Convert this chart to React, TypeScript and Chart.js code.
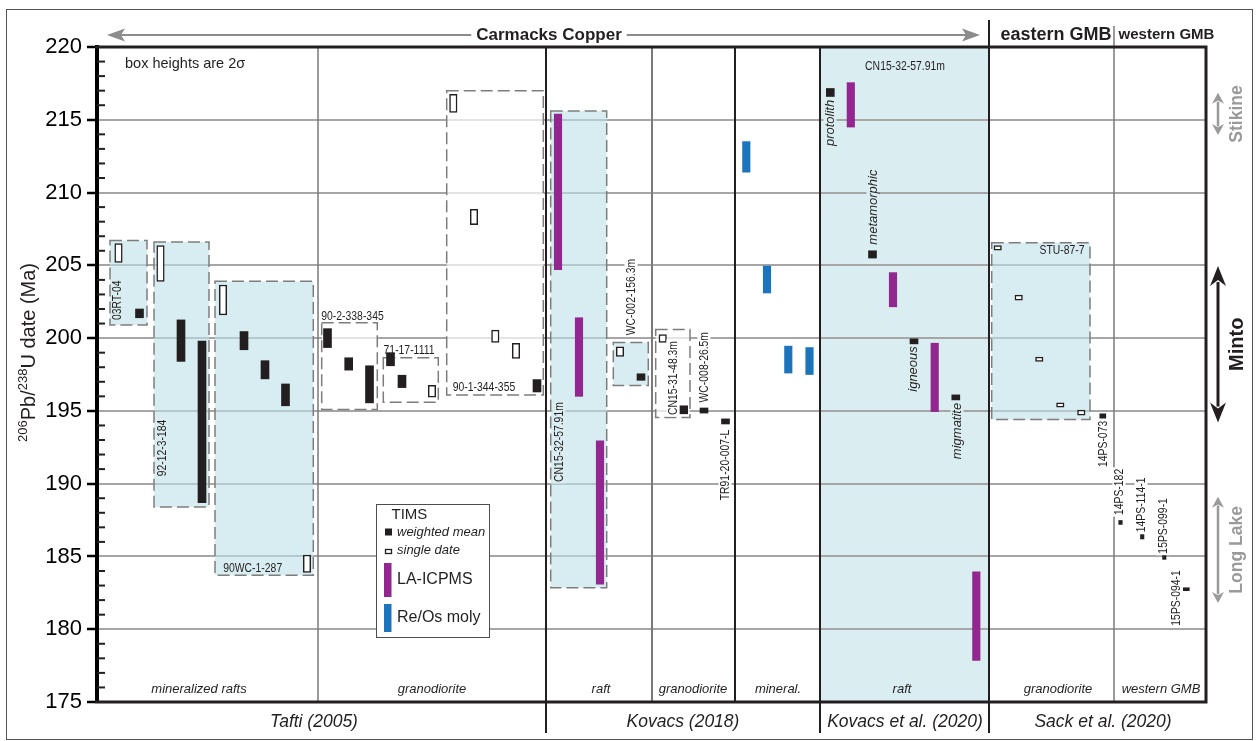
import { useEffect, useRef } from "react";
import { Chart, registerables } from "chart.js";

Chart.register(...registerables);

// ---------------- data ----------------
// x = position along the horizontal sample track (0 = age axis, 1109 = right edge)
// each row: [x, younger age (Ma), older age (Ma)]
type Row = [number, number, number];

const weightedMean: Row[] = [
  [42.5, 201.4, 202.0], // 03RT-04
  [84, 198.4, 201.25], // 92-12-3-184
  [105, 188.7, 199.8],
  [147, 199.2, 200.45], // 90WC-1-287
  [168, 197.2, 198.45],
  [188.5, 195.35, 196.85],
  [230.5, 199.35, 200.65], // 90-2-338-345
  [251.7, 197.8, 198.65],
  [272.5, 195.55, 198.1],
  [293.5, 198.1, 199.0], // 71-17-1111
  [305, 196.6, 197.45],
  [440, 196.3, 197.15], // 90-1-344-355
  [544, 197.1, 197.55], // WC-002-156.3m
  [586.7, 194.8, 195.35], // CN15-31-48.3m
  [607, 194.85, 195.2], // WC-008-26.5m
  [628.5, 194.1, 194.45], // TR91-20-007-L
  [733.3, 216.6, 217.15], // protolith
  [775.5, 205.5, 206.0], // metamorphic
  [817, 199.55, 199.95], // igneous
  [858.8, 195.75, 196.1], // migmatite
];
const weightedMeanNarrow: Row[] = [
  [1005.8, 194.5, 194.8], // 14PS-073
  [1089.3, 182.65, 182.85], // 15PS-094-1
];
const weightedMeanThin: Row[] = [
  [1023.5, 187.2, 187.47], // 14PS-182
  [1045.2, 186.2, 186.5], // 14PS-114-1
  [1067.3, 184.8, 185.1], // 15PS-099-1
];
const singleDate: Row[] = [
  [21.5, 205.2, 206.5],
  [63.5, 203.9, 206.35],
  [126, 201.6, 203.65],
  [210, 183.9, 185.1],
  [356.3, 215.5, 216.75],
  [377, 207.8, 208.85],
  [398.3, 199.7, 200.55],
  [419, 198.6, 199.65],
  [335, 195.95, 196.75],
  [523, 198.75, 199.4],
  [565.7, 199.7, 200.25],
  [900.7, 206.05, 206.35],
  [921.7, 202.6, 202.95],
  [942.3, 198.4, 198.7],
  [963.3, 195.25, 195.55],
  [984.3, 194.7, 195.05],
];
const laIcpms: Row[] = [
  [461, 204.7, 215.4],
  [482, 196.0, 201.4],
  [503, 183.1, 192.95],
  [753.8, 214.5, 217.55],
  [796, 202.15, 204.5],
  [837.7, 194.95, 199.65],
  [879.3, 177.85, 183.95],
];
const reOsMoly: Row[] = [
  [649.3, 211.4, 213.5],
  [670, 203.1, 204.95],
  [691.3, 197.6, 199.45],
  [712.5, 197.5, 199.35],
];

// sample boxes: [x start, x end, younger, older, kind]
const sampleBoxes: [number, number, number, number, string][] = [
  [13, 50, 200.9, 206.7, "raft"],
  [57, 112, 188.4, 206.6, "raft"],
  [118, 216.3, 183.7, 203.9, "raft"],
  [224.7, 280.3, 195.1, 201.05, "open"],
  [286.3, 341.3, 195.6, 198.65, "open"],
  [349.7, 446.3, 196.1, 217.0, "open"],
  [453.7, 509.7, 182.85, 215.6, "raft"],
  [516.3, 551.3, 196.75, 199.7, "raft"],
  [558.7, 593, 194.55, 200.6, "open"],
  [894.7, 993, 194.4, 206.55, "raft"],
];

const verticalLabels: [string, number, number][] = [
  ["03RT-04", 20.5, 202.6],
  ["92-12-3-184", 65.5, 192.45],
  ["CN15-32-57.91m", 462, 192.86],
  ["WC-002-156.3m", 534, 202.82],
  ["CN15-31-48.3m", 576, 197.26],
  ["WC-008-26.5m", 607, 198.0],
  ["TR91-20-007-L", 628, 191.28],
  ["14PS-073", 1006, 192.73],
  ["14PS-182", 1022, 189.43],
  ["14PS-114-1", 1044, 188.54],
  ["15PS-099-1", 1066, 187.1],
  ["15PS-094-1", 1079, 182.15],
];
const horizontalLabels: [string, number, number][] = [
  ["90WC-1-287", 155.7, 184.2],
  ["90-2-338-345", 255.5, 201.52],
  ["71-17-1111", 312, 199.12],
  ["90-1-344-355", 387, 196.64],
  ["CN15-32-57.91m", 808, 218.7],
  ["STU-87-7", 965, 206.05],
];
const phaseLabels: [string, number, number][] = [
  ["protolith", 733, 214.78],
  ["metamorphic", 776, 209.0],
  ["igneous", 816, 197.88],
  ["migmatite", 860, 193.62],
];

const columnEdges = [0, 221, 449, 555, 638, 723, 892, 1017, 1109];
const columnCaptions: [string, number][] = [
  ["mineralized rafts", 102],
  ["granodiorite", 335],
  ["raft", 504],
  ["granodiorite", 596],
  ["mineral.", 681],
  ["raft", 805],
  ["granodiorite", 961],
  ["western GMB", 1064],
];
const raftColumn: [number, number] = [723, 892];
const studies: [string, number][] = [
  ["Tafti (2005)", 217],
  ["Kovacs (2018)", 586],
  ["Kovacs et al. (2020)", 808],
  ["Sack et al. (2020)", 1006],
];
const carmacksArrow: [number, number] = [10, 883];
const regions: [string, number][] = [
  ["Carmacks Copper", 452],
  ["eastern GMB", 959],
  ["western GMB", 1069.5],
];
const terranes: [string, number, number][] = [
  ["Stikine", 213.95, 216.85],
  ["Minto", 194.2, 204.95],
  ["Long Lake", 181.8, 189.1],
];
const boxNote: [string, number, number] = ["box heights are 2σ", 28, 218.83];
const AGE_MIN = 175;
const AGE_MAX = 220;
const TRACK_MAX = 1109;

// ---------------- styles ----------------
const FONT = '"Liberation Sans", Arial, sans-serif';
const NARROW_SCALE = 0.8;
const INK = "#231f20";
const RAFT_FILL = "#daedf1";
const BOX_FILL = "rgba(190,225,232,0.6)";
const OPEN_FILL = "rgba(255,255,255,0.7)";
const GRID = "#a6a6a6";
const PURPLE = "#92278f";
const BLUE = "#1c75bc";
const REGION_SIZE = [17, 18, 15];
const DIVIDER_STYLE: Record<number, { color: string; width: number; up: number; down: number }> = {
  221: { color: "#7a7a7a", width: 1.5, up: 0, down: 0 },
  449: { color: INK, width: 2, up: 0, down: 31 },
  555: { color: "#7a7a7a", width: 2, up: 0, down: 0 },
  638: { color: INK, width: 2, up: 0, down: 0 },
  723: { color: INK, width: 2, up: 0, down: 31 },
  892: { color: INK, width: 2, up: 27, down: 31 },
  1017: { color: "#7a7a7a", width: 1.5, up: 21, down: 0 },
};

const toBars = (rows: Row[]) => rows.map(([x, lo, hi]) => ({ x, y: [lo, hi] }));

function drawText(
  ctx: CanvasRenderingContext2D,
  s: string,
  x: number,
  y: number,
  size: number,
  o: { style?: string; weight?: string; align?: CanvasTextAlign; rot?: boolean; color?: string; bg?: string; squeeze?: number } = {}
) {
  ctx.save();
  ctx.font = `${o.style || "normal"} ${o.weight || "normal"} ${size}px ${FONT}`;
  ctx.translate(x, y);
  if (o.rot) ctx.rotate(-Math.PI / 2);
  if (o.squeeze) ctx.scale(o.squeeze, 1);
  ctx.textAlign = o.align || "center";
  ctx.textBaseline = "middle";
  if (o.bg) {
    const w = ctx.measureText(s).width;
    ctx.fillStyle = o.bg;
    ctx.fillRect(-w / 2 - 2, -size / 2, w + 4, size);
  }
  ctx.fillStyle = o.color || INK;
  ctx.fillText(s, 0, 0);
  ctx.restore();
}

function vArrow(ctx: CanvasRenderingContext2D, x: number, y1: number, y2: number, color: string, lw: number, hl: number, hw: number) {
  ctx.save();
  ctx.strokeStyle = color;
  ctx.fillStyle = color;
  ctx.lineWidth = lw;
  ctx.beginPath();
  ctx.moveTo(x, y1 + hl * 0.8);
  ctx.lineTo(x, y2 - hl * 0.8);
  ctx.stroke();
  ctx.beginPath();
  ctx.moveTo(x, y1);
  ctx.lineTo(x - hw, y1 + hl);
  ctx.lineTo(x, y1 + hl * 0.7);
  ctx.lineTo(x + hw, y1 + hl);
  ctx.closePath();
  ctx.fill();
  ctx.beginPath();
  ctx.moveTo(x, y2);
  ctx.lineTo(x - hw, y2 - hl);
  ctx.lineTo(x, y2 - hl * 0.7);
  ctx.lineTo(x + hw, y2 - hl);
  ctx.closePath();
  ctx.fill();
  ctx.restore();
}

function labelBg(v: number, age: number): string {
  if (v >= raftColumn[0] && v <= raftColumn[1]) return RAFT_FILL;
  for (const [x0, x1, lo, hi, kind] of sampleBoxes) {
    if (v >= x0 && v <= x1 && age >= lo && age <= hi) return kind === "raft" ? RAFT_FILL : "#ffffff";
  }
  return "#ffffff";
}

const overlay = {
  id: "overlay",
  beforeDraw(chart: any) {
    const { ctx, chartArea: a } = chart;
    const xs = chart.scales.x;
    ctx.save();
    ctx.fillStyle = "#fff";
    ctx.fillRect(0, 0, chart.width, chart.height);
    const l = xs.getPixelForValue(raftColumn[0]);
    const r = xs.getPixelForValue(raftColumn[1]);
    ctx.fillStyle = RAFT_FILL;
    ctx.fillRect(l, a.top, r - l, a.bottom - a.top);
    ctx.restore();
  },
  beforeDatasetsDraw(chart: any) {
    const { ctx, chartArea: a } = chart;
    const xs = chart.scales.x;
    const ys = chart.scales.y;
    ctx.save();
    for (const [x0, x1, lo, hi, kind] of sampleBoxes) {
      const l = xs.getPixelForValue(x0);
      const r = xs.getPixelForValue(x1);
      const t = ys.getPixelForValue(hi);
      const b = ys.getPixelForValue(lo);
      ctx.fillStyle = kind === "raft" ? BOX_FILL : OPEN_FILL;
      ctx.fillRect(l, t, r - l, b - t);
      ctx.setLineDash([12, 5]);
      ctx.strokeStyle = "#7d7d7d";
      ctx.lineWidth = 1.5;
      ctx.strokeRect(l, t, r - l, b - t);
    }
    ctx.setLineDash([]);
    for (const v of columnEdges.slice(1, -1)) {
      const st = DIVIDER_STYLE[v];
      const p = xs.getPixelForValue(v);
      ctx.strokeStyle = st.color;
      ctx.lineWidth = st.width;
      ctx.beginPath();
      ctx.moveTo(p, a.top - st.up);
      ctx.lineTo(p, a.bottom + st.down);
      ctx.stroke();
    }
    ctx.restore();
  },
  afterDatasetsDraw(chart: any) {
    const { ctx, chartArea: a } = chart;
    const xs = chart.scales.x;
    const ys = chart.scales.y;
    const X = (v: number) => xs.getPixelForValue(v);
    const Y = (v: number) => ys.getPixelForValue(v);
    ctx.save();

    // minor ticks (1 Ma)
    ctx.strokeStyle = INK;
    ctx.lineWidth = 2;
    for (let v = AGE_MIN + 1; v < AGE_MAX; v++) {
      if (v % 5 === 0) continue;
      const p = Y(v);
      ctx.beginPath();
      ctx.moveTo(a.left, p);
      ctx.lineTo(a.left + 8, p);
      ctx.stroke();
    }

    // plot frame
    ctx.lineWidth = 3;
    ctx.beginPath();
    ctx.moveTo(a.left - 2, a.top);
    ctx.lineTo(a.right, a.top);
    ctx.lineTo(a.right, a.bottom);
    ctx.lineTo(a.left - 2, a.bottom);
    ctx.stroke();

    // labels
    for (const [s, v, age] of verticalLabels) {
      drawText(ctx, s, X(v), Y(age), 13, { rot: true, squeeze: NARROW_SCALE, bg: labelBg(v, age) });
    }
    for (const [s, v, age] of horizontalLabels) {
      drawText(ctx, s, X(v), Y(age), 13, { squeeze: NARROW_SCALE });
    }
    for (const [s, v, age] of phaseLabels) {
      drawText(ctx, s, X(v), Y(age), 13, { style: "italic", rot: true, bg: labelBg(v, age) });
    }
    drawText(ctx, boxNote[0], X(boxNote[1]), Y(boxNote[2]), 14.5, { align: "left" });

    // column captions and studies
    for (const [s, v] of columnCaptions) {
      drawText(ctx, s, X(v), a.bottom - 13, 13, { style: "italic" });
    }
    for (const [s, v] of studies) {
      drawText(ctx, s, X(v), a.bottom + 20, 17.5, { style: "italic" });
    }

    // regions header
    const hy = a.top - 12;
    regions.forEach(([s, v], i) => {
      const c = X(v);
      const size = REGION_SIZE[i];
      drawText(ctx, s, c, hy, size, { weight: "bold" });
      if (i === 0) {
        ctx.font = `bold ${size}px ${FONT}`;
        const w = ctx.measureText(s).width;
        const l = X(carmacksArrow[0]);
        const r = X(carmacksArrow[1]);
        ctx.strokeStyle = "#8c8c8c";
        ctx.fillStyle = "#8c8c8c";
        ctx.lineWidth = 2;
        ctx.beginPath();
        ctx.moveTo(l + 10, hy);
        ctx.lineTo(c - w / 2 - 5, hy);
        ctx.moveTo(c + w / 2 + 5, hy);
        ctx.lineTo(r - 10, hy);
        ctx.stroke();
        ctx.beginPath();
        ctx.moveTo(l, hy);
        ctx.lineTo(l + 18, hy - 6.5);
        ctx.lineTo(l + 14, hy);
        ctx.lineTo(l + 18, hy + 6.5);
        ctx.closePath();
        ctx.fill();
        ctx.beginPath();
        ctx.moveTo(r, hy);
        ctx.lineTo(r - 18, hy - 6.5);
        ctx.lineTo(r - 14, hy);
        ctx.lineTo(r - 18, hy + 6.5);
        ctx.closePath();
        ctx.fill();
      }
    });

    // terranes on the right
    for (const [s, lo, hi] of terranes) {
      const t = Y(hi);
      const b = Y(lo);
      const minto = s === "Minto";
      const col = minto ? INK : "#9a9a9a";
      vArrow(ctx, a.right + 12, t, b, col, minto ? 3 : 2.5, minto ? 20 : 11, minto ? 8 : 6);
      drawText(ctx, s, a.right + 31, (t + b) / 2, minto ? 20 : 17.5, { weight: "bold", rot: true, color: col });
    }

    // legend
    const lx = 376.5;
    const ly = 504.5;
    ctx.fillStyle = "#fff";
    ctx.fillRect(lx, ly, 113, 133);
    ctx.strokeStyle = "#4d4d4d";
    ctx.lineWidth = 1;
    ctx.strokeRect(lx, ly, 113, 133);
    drawText(ctx, "TIMS", lx + 15, ly + 10, 15, { align: "left" });
    ctx.fillStyle = INK;
    ctx.fillRect(lx + 8.5, ly + 24, 7, 7);
    drawText(ctx, "weighted mean", lx + 20.5, ly + 28, 13, { align: "left", style: "italic" });
    ctx.strokeStyle = INK;
    ctx.lineWidth = 1.3;
    ctx.strokeRect(lx + 9, ly + 45, 6, 4);
    drawText(ctx, "single date", lx + 20.5, ly + 45.5, 13, { align: "left", style: "italic" });
    ctx.fillStyle = PURPLE;
    ctx.fillRect(lx + 7.5, ly + 58.5, 7.5, 34);
    drawText(ctx, "LA-ICPMS", lx + 20.5, ly + 75, 16, { align: "left" });
    ctx.fillStyle = BLUE;
    ctx.fillRect(lx + 7.5, ly + 99.5, 7.5, 28);
    drawText(ctx, "Re/Os moly", lx + 20.5, ly + 113.5, 16, { align: "left" });

    // y axis title with superscripts
    const parts: [string, boolean][] = [["206", true], ["Pb/", false], ["238", true], ["U date (Ma)", false]];
    ctx.save();
    ctx.translate(35, (a.top + a.bottom) / 2 - 22);
    ctx.rotate(-Math.PI / 2);
    ctx.textBaseline = "alphabetic";
    ctx.textAlign = "left";
    ctx.fillStyle = INK;
    let total = 0;
    const widths = parts.map(([s, sup]) => {
      ctx.font = `${sup ? 13 : 20}px ${FONT}`;
      const w = ctx.measureText(s).width;
      total += w;
      return w;
    });
    let cx = -total / 2;
    parts.forEach(([s, sup], i) => {
      ctx.font = `${sup ? 13 : 20}px ${FONT}`;
      ctx.fillText(s, cx, sup ? -8 : 0);
      cx += widths[i];
    });
    ctx.restore();

    // outer frame
    ctx.strokeStyle = "#555";
    ctx.lineWidth = 1;
    ctx.strokeRect(6.5, 9.5, 1246, 730);
    ctx.restore();
  },
};

export default function App() {
  const canvasRef = useRef<HTMLCanvasElement | null>(null);
  useEffect(() => {
    document.body.style.margin = "0";
    const canvas = canvasRef.current;
    if (!canvas) return;
    Chart.defaults.font.family = FONT;
    const common = { grouped: false, borderWidth: 0, borderSkipped: false };
    const chart = new Chart(canvas, {
      type: "bar",
      data: {
        datasets: [
          { ...common, label: "TIMS weighted mean", data: toBars(weightedMean), backgroundColor: INK, barThickness: 8 },
          { ...common, label: "TIMS weighted mean (narrow)", data: toBars(weightedMeanNarrow), backgroundColor: INK, barThickness: 6 },
          { ...common, label: "TIMS weighted mean (thin)", data: toBars(weightedMeanThin), backgroundColor: INK, barThickness: 3.5 },
          { ...common, label: "TIMS single date", data: toBars(singleDate), backgroundColor: "#fff", borderColor: INK, borderWidth: 1.5, barThickness: 7.5 },
          { ...common, label: "LA-ICPMS", data: toBars(laIcpms), backgroundColor: PURPLE, barThickness: 7.5 },
          { ...common, label: "Re/Os moly", data: toBars(reOsMoly), backgroundColor: BLUE, barThickness: 7.5 },
        ] as any,
      },
      options: {
        animation: false,
        responsive: false,
        events: [],
        layout: { padding: { left: 0, top: 47, right: 50, bottom: 39 } },
        plugins: { legend: { display: false }, tooltip: { enabled: false } },
        scales: {
          x: { type: "linear", min: 0, max: TRACK_MAX, display: false, offset: false, grid: { display: false, offset: false } },
          y: {
            type: "linear",
            min: AGE_MIN,
            max: AGE_MAX,
            afterFit: (s: any) => {
              s.width = 97;
            },
            ticks: { stepSize: 5, color: "#000", padding: 5, font: { size: 22, family: FONT } },
            grid: { color: GRID, lineWidth: 2, tickLength: 10, tickColor: "#000", tickWidth: 2.5 },
            border: { color: "#000", width: 4 },
          },
        },
      } as any,
      plugins: [overlay],
    });
    return () => chart.destroy();
  }, []);
  return (
    <div style={{ position: "absolute", left: 0, top: 0, width: 1256, height: 741, background: "#fff" }}>
      <canvas ref={canvasRef} width={1256} height={741} style={{ display: "block", width: 1256, height: 741 }} />
    </div>
  );
}
